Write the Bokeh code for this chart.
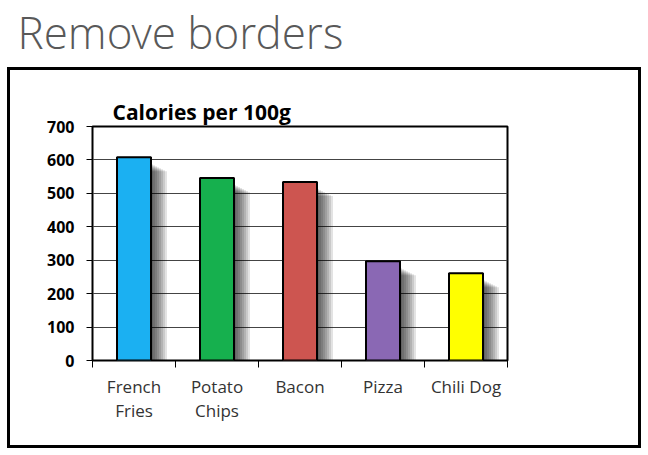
from bokeh.plotting import figure
from bokeh.layouts import column
from bokeh.models import Range1d, FixedTicker, Label, Title, ColumnDataSource
from bokeh.embed import file_html
from bokeh.resources import INLINE

# ---- data ----
categories = ["French\nFries", "Potato\nChips", "Bacon", "Pizza", "Chili Dog"]
calories = [608, 546, 534, 297, 261]
bar_colors = ["#1BB0F2", "#16B04E", "#CD5550", "#8A68B4", "#FFFF00"]
y_ticks = [0, 100, 200, 300, 400, 500, 600, 700]
chart_title = "Calories per 100g"
page_title = "Remove borders"

xs = [i + 0.5 for i in range(len(categories))]
src = ColumnDataSource(dict(x=xs, top=calories, color=bar_colors))

# ---- page title strip ----
head = figure(width=640, height=67, output_backend="svg", toolbar_location=None,
              title=None, x_range=Range1d(0, 1), y_range=Range1d(0, 1),
              x_axis_location=None, y_axis_location=None, min_border=0)
head.grid.grid_line_color = None
head.outline_line_color = None
head.add_layout(Label(x=17, y=36, x_units="screen", y_units="screen", text=page_title,
                      text_font="'Open Sans Light', 'Open Sans'", text_font_size="44px",
                      text_color="#595959", text_baseline="middle"))

# ---- chart inside bordered box ----
W, H = 628, 375
p = figure(width=W, height=H, output_backend="svg", toolbar_location=None,
           x_range=Range1d(0, len(categories)), y_range=Range1d(0, 700),
           min_border_left=82, min_border_right=131, min_border_top=56,
           min_border_bottom=85)
p.title = Title(text=chart_title, align="left", offset=20, standoff=2,
                text_font="Open Sans", text_font_style="bold",
                text_font_size="21px", text_color="black")
p.background_fill_color = "white"
p.border_fill_color = "white"
p.outline_line_color = "black"
p.outline_line_width = 2

p.xgrid.grid_line_color = None
p.ygrid.ticker = FixedTicker(ticks=y_ticks)
p.ygrid.grid_line_color = "#444444"
p.ygrid.grid_line_width = 1

p.yaxis.ticker = FixedTicker(ticks=y_ticks)
p.yaxis.axis_line_color = None
p.yaxis.major_tick_in = 0
p.yaxis.major_tick_out = 6
p.yaxis.major_tick_line_color = "black"
p.yaxis.minor_tick_line_color = None
p.yaxis.major_label_text_font = "Open Sans"
p.yaxis.major_label_text_font_style = "bold"
p.yaxis.major_label_text_font_size = "16px"
p.yaxis.major_label_text_color = "black"
p.yaxis.major_label_standoff = 12

p.xaxis.ticker = FixedTicker(ticks=xs, minor_ticks=list(range(len(categories) + 1)))
p.xaxis.major_label_overrides = {x: c for x, c in zip(xs, categories)}
p.xaxis.axis_line_color = None
p.xaxis.major_tick_line_color = None
p.xaxis.minor_tick_in = 0
p.xaxis.minor_tick_out = 7
p.xaxis.minor_tick_line_color = "black"
p.xaxis.major_label_text_font = "Open Sans"
p.xaxis.major_label_text_font_size = "17px"
p.xaxis.major_label_text_color = "#333333"
p.xaxis.major_label_standoff = 7
p.xaxis.major_label_text_line_height = 1.08

# soft shadows: stacked translucent layers offset to the right
px_x = len(categories) / 415.0   # data units per pixel (x)
px_y = 700 / 234.0               # data units per pixel (y)
for d in [2, 4, 6, 8, 10, 12, 14, 16]:
    p.vbar(x=[x + d * px_x for x in xs],
           top=[v - (6 + 0.5 * d) * px_y for v in calories], bottom=0,
           width=0.41, fill_color="black", fill_alpha=0.11, line_color=None)

p.vbar(x="x", top="top", bottom=0, width=0.41, source=src,
       fill_color="color", line_color="black", line_width=2)

box = column(p, margin=(0, 0, 0, 7),
             styles={"border": "3px solid black"})
layout = column(head, box, spacing=0)

open("out.html", "w").write(file_html(layout, INLINE))
